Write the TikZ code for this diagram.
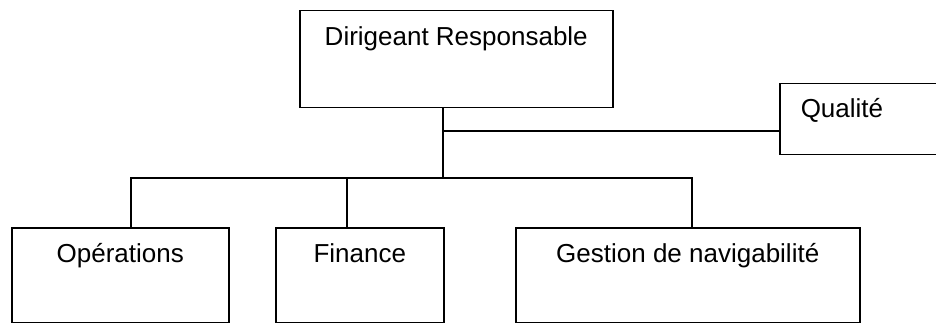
\documentclass[tikz,border=0pt]{standalone}
\usepackage{fontspec}
\setmainfont{Liberation Sans}
\usepackage{tikz}
\usetikzlibrary{positioning}

\begin{document}
\begin{tikzpicture}[x=1pt, y=-1pt, line width=1.5pt,
    orgbox/.style={draw, anchor=north west, inner sep=0pt, font=\fontsize{26}{30}\selectfont}]
  \useasboundingbox (0,0) rectangle (936,323);
  \clip (0,0) rectangle (936,323);

  % Head
  \node[orgbox, minimum width=313pt, text height=35pt, text depth=62pt] (dir) at (299,10) {Dirigeant Responsable};

  % Quality (runs off the right edge)
  \node[orgbox, inner xsep=21pt, text width=180pt, align=left, text height=34pt, text depth=37pt] (qual) at (779,83) {Qualit\'e};

  % Departments
  \node[orgbox, minimum width=217pt, text height=35pt, text depth=60pt] (ops) at (11,227) {Op\'erations};
  \node[orgbox, minimum width=168pt, text height=35pt, text depth=60pt] (fin) at (275,227) {Finance};
  \node[orgbox, minimum width=344pt, text height=35pt, text depth=60pt] (gest) at (515,227) {Gestion de navigabilit\'e};

  % Branch points
  \coordinate (hub) at (443,178);
  \coordinate (tap) at (443,131);
  \coordinate (busL) at (131,178);
  \coordinate (busM) at (347,178);
  \coordinate (busR) at (692,178);

  % Connectors
  \draw (dir.south -| hub) -- (hub);
  \draw (tap) -- (tap -| qual.west);
  \draw (ops.north -| busL) -- (busL) -- (busR) -- (gest.north -| busR);
  \draw (busM) -- (fin.north -| busM);
\end{tikzpicture}
\end{document}
